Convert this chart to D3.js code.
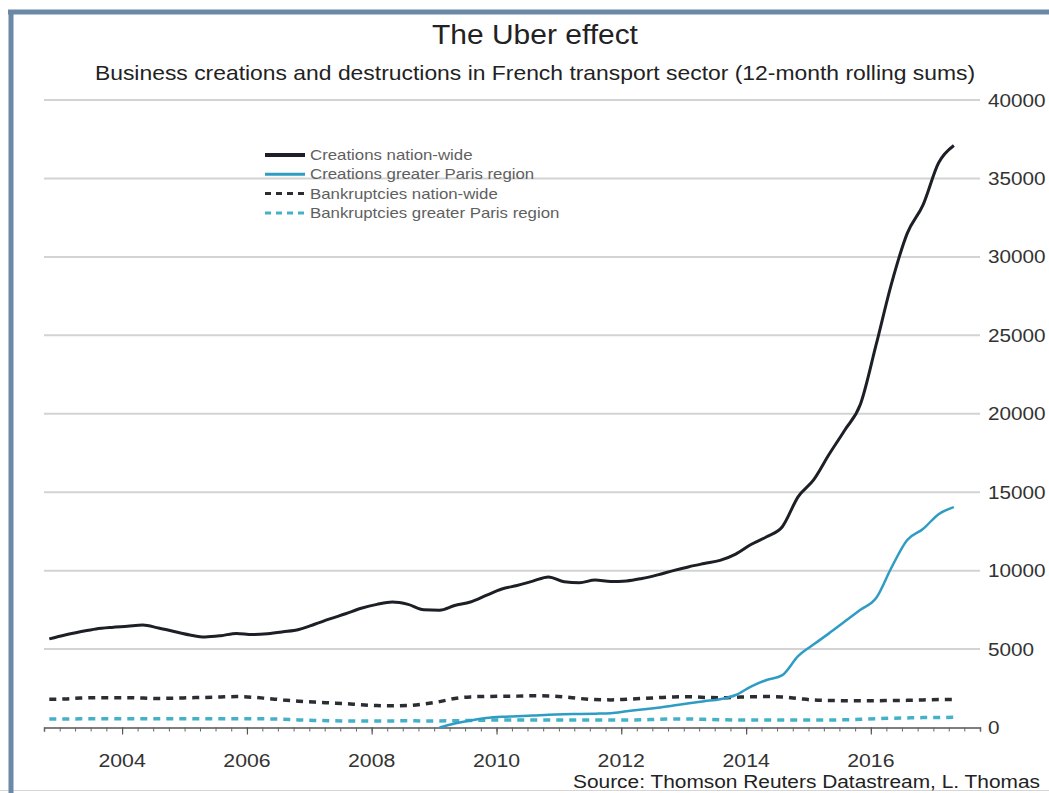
<!DOCTYPE html>
<html>
<head>
<meta charset="utf-8">
<script src="https://cdn.jsdelivr.net/npm/d3@7.9.0/dist/d3.min.js"></script>
<style>
  body { margin: 0; background: #fff; }
  svg text { font-family: "Liberation Sans", Arial, sans-serif; }
</style>
</head>
<body>
<div id="vis"></div>
<script>
const width = 1049, height = 793;

// quarterly observation months
const dates = ["2002-11",
  "2003-02","2003-05","2003-08","2003-11",
  "2004-02","2004-05","2004-08","2004-11",
  "2005-02","2005-05","2005-08","2005-11",
  "2006-02","2006-05","2006-08","2006-11",
  "2007-02","2007-05","2007-08","2007-11",
  "2008-02","2008-05","2008-08","2008-11",
  "2009-02","2009-05","2009-08","2009-11",
  "2010-02","2010-05","2010-08","2010-11",
  "2011-02","2011-05","2011-08","2011-11",
  "2012-02","2012-05","2012-08","2012-11",
  "2013-02","2013-05","2013-08","2013-11",
  "2014-02","2014-05","2014-08","2014-11",
  "2015-02","2015-05","2015-08","2015-11",
  "2016-02","2016-05","2016-08","2016-11",
  "2017-02","2017-05"];

const creationsNation = [5650,
  5900, 6100, 6280, 6380,
  6450, 6530, 6340, 6120,
  5900, 5770, 5850, 6000,
  5930, 5980, 6100, 6250,
  6580, 6920, 7250, 7600,
  7850, 8000, 7850, 7500,
  7480, 7780, 8000, 8420,
  8830, 9050, 9330, 9600,
  9290, 9230, 9400, 9300,
  9340, 9500, 9730, 10000,
  10250, 10450, 10650, 11050,
  11680, 12160, 12800, 14700,
  15800, 17400, 18950, 20600,
  24400, 28300, 31500, 33300,
  36000, 37100];

const creationsParis = [null,
  null, null, null, null,
  null, null, null, null,
  null, null, null, null,
  null, null, null, null,
  null, null, null, null,
  null, null, null, null,
  0, 250, 450, 600,
  680, 720, 760, 820,
  850, 860, 880, 910,
  1030, 1150, 1260, 1400,
  1550, 1680, 1800, 2070,
  2620, 3030, 3340, 4550,
  5300, 6000, 6750, 7500,
  8250, 10200, 11950, 12650,
  13600, 14050];

const bankruptNation = [1800,
  1820, 1880, 1900, 1900,
  1900, 1880, 1850, 1870,
  1900, 1920, 1950, 1970,
  1930, 1850, 1760, 1680,
  1620, 1570, 1520, 1450,
  1400, 1380, 1400, 1500,
  1650, 1850, 1950, 1980,
  1990, 2000, 2020, 2010,
  1950, 1850, 1780, 1760,
  1800, 1850, 1900, 1950,
  1960, 1920, 1900, 1930,
  1960, 1970, 1950, 1850,
  1750, 1720, 1710, 1710,
  1710, 1720, 1730, 1760,
  1780, 1790];

const bankruptParis = [540,
  540, 550, 550, 550,
  550, 550, 550, 550,
  550, 550, 550, 550,
  550, 550, 520, 480,
  450, 430, 420, 410,
  410, 420, 430, 420,
  420, 430, 450, 470,
  480, 480, 480, 480,
  480, 480, 480, 480,
  480, 490, 520, 540,
  540, 520, 500, 480,
  480, 480, 480, 480,
  480, 480, 490, 520,
  560, 590, 610, 630,
  640, 650];

const yTicks = [0, 5000, 10000, 15000, 20000, 25000, 30000, 35000, 40000];
const yearLabels = ["2004", "2006", "2008", "2010", "2012", "2014", "2016"];

const seriesNames = ["Creations nation-wide", "Creations greater Paris region",
                     "Bankruptcies nation-wide", "Bankruptcies greater Paris region"];

const parse = d3.timeParse("%Y-%m");
const times = dates.map(parse);

const series = [
  { name: seriesNames[0], values: creationsNation, color: "#1d1f26", w: 3, dash: null },
  { name: seriesNames[1], values: creationsParis, color: "#2f9cc3", w: 2.5, dash: null },
  { name: seriesNames[2], values: bankruptNation, color: "#2b2d33", w: 3.5, dash: "7,6" },
  { name: seriesNames[3], values: bankruptParis, color: "#45b1c9", w: 3.5, dash: "7,6" }
];

const svg = d3.select("#vis").append("svg")
    .attr("width", width)
    .attr("height", height)
    .attr("viewBox", `0 0 ${width} ${height}`);

const x = d3.scaleTime()
    .domain([new Date(2002, 9, 1), new Date(2017, 9, 1)])
    .range([44, 980]);

const y = d3.scaleLinear()
    .domain([0, 40000])
    .range([727.5, 100]);

// the source image text is a bit wider than Arial, so stretch it horizontally
function label(g, tx, ty, sx, size, anchor, fill, str) {
  return g.append("text")
    .attr("transform", `translate(${tx},${ty}) scale(${sx},1)`)
    .attr("text-anchor", anchor)
    .attr("font-size", size)
    .attr("fill", fill)
    .text(str);
}

// frame
svg.append("line").attr("x1", 0).attr("x2", width).attr("y1", 790.5).attr("y2", 790.5)
    .attr("stroke", "#d6d6d6").attr("stroke-width", 1);
svg.append("line").attr("x1", 8).attr("x2", width).attr("y1", 12).attr("y2", 12)
    .attr("stroke", "#6b88a6").attr("stroke-width", 5);
svg.append("line").attr("x1", 11).attr("x2", 11).attr("y1", 10).attr("y2", height)
    .attr("stroke", "#6b88a6").attr("stroke-width", 5);

// titles
label(svg, 535, 44, 1.07, 28, "middle", "#222", "The Uber effect");
label(svg, 535, 80, 1.145, 20, "middle", "#222",
  "Business creations and destructions in French transport sector (12-month rolling sums)");

// gridlines
svg.append("g")
  .selectAll("line")
  .data(yTicks.filter(d => d > 0))
  .enter()
  .append("line")
    .attr("x1", 44).attr("x2", 980)
    .attr("y1", d => y(d)).attr("y2", d => y(d))
    .attr("stroke", "#d3d3d3")
    .attr("stroke-width", 2);

// y labels on the right
const yLab = svg.append("g");
yTicks.forEach(d => label(yLab, 988, y(d) + 6.5, 1.12, 18.5, "start", "#333", d3.format("d")(d)));

// x axis: quarterly minor ticks, major ticks at labelled years
const minor = svg.append("g")
    .attr("transform", `translate(0,${y(0)})`)
    .call(d3.axisBottom(x).tickValues(d3.timeMonth.every(3).range(new Date(2002, 9, 1), new Date(2017, 9, 2)))
      .tickSize(4).tickFormat(""));
minor.select(".domain").attr("stroke", "#555").attr("stroke-width", 1.5);
minor.selectAll(".tick line").attr("stroke", "#666");

const major = svg.append("g")
    .attr("transform", `translate(0,${y(0)})`)
    .call(d3.axisBottom(x).tickValues(yearLabels.map(d => new Date(+d, 0, 1)))
      .tickSize(7).tickFormat(""));
major.select(".domain").remove();
major.selectAll(".tick line").attr("stroke", "#555").attr("stroke-width", 1.2);

const xLab = svg.append("g");
yearLabels.forEach(d => label(xLab, x(new Date(+d, 0, 1)), 767, 1.15, 18.5, "middle", "#333", d));

// lines
const line = d3.line()
    .defined(d => d[1] != null)
    .x(d => x(d[0]))
    .y(d => y(d[1]))
    .curve(d3.curveMonotoneX);

svg.append("g")
  .selectAll("path")
  .data(series.slice().reverse())
  .enter()
  .append("path")
    .attr("d", s => line(times.map((t, i) => [t, s.values[i]])))
    .attr("fill", "none")
    .attr("stroke", s => s.color)
    .attr("stroke-width", s => s.w)
    .attr("stroke-dasharray", s => s.dash)
    .attr("stroke-linejoin", "round");

// legend
const legend = svg.append("g")
  .selectAll("g")
  .data(series)
  .enter()
  .append("g")
    .attr("transform", (d, i) => `translate(265,${155 + i * 19.3})`);

legend.append("line")
    .attr("x1", 0).attr("x2", 40)
    .attr("stroke", d => d.color)
    .attr("stroke-width", (d, i) => i === 0 ? 4 : 3)
    .attr("stroke-dasharray", d => d.dash ? "6,5" : null);

legend.append("text")
    .attr("transform", "translate(45,5) scale(1.16,1)")
    .attr("font-size", 14.5)
    .attr("fill", "#5f5f5f")
    .text(d => d.name);

// source
label(svg, 1040, 788, 1.13, 18.5, "end", "#222", "Source: Thomson Reuters Datastream, L. Thomas");
</script>
</body>
</html>
